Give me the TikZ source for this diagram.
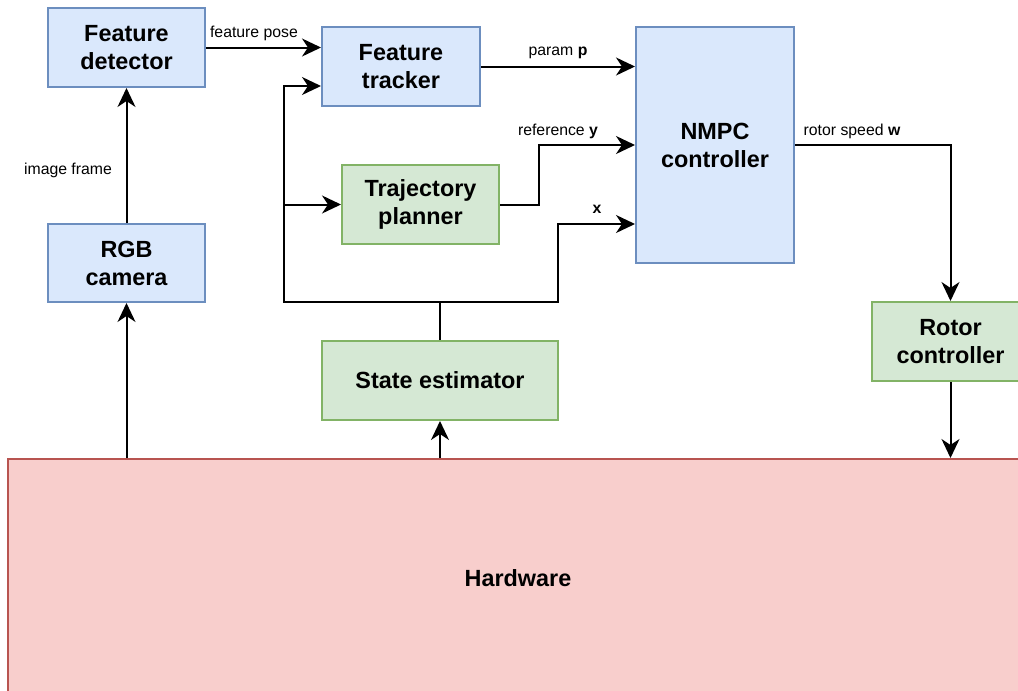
\documentclass[tikz,border=0pt]{standalone}
\usepackage{fontspec}
\setmainfont{Liberation Sans}
\usetikzlibrary{arrows.meta,calc}
\definecolor{bfill}{HTML}{DAE8FC}
\definecolor{bdraw}{HTML}{6C8EBF}
\definecolor{gfill}{HTML}{D5E8D4}
\definecolor{gdraw}{HTML}{82B366}
\definecolor{rfill}{HTML}{F8CECC}
\definecolor{rdraw}{HTML}{B85450}
\begin{document}
\begin{tikzpicture}[x=1pt,y=-1pt,
  box/.style={draw,line width=2pt,inner sep=0pt,align=center,
    font=\fontsize{23.4}{28}\selectfont\bfseries,text=black},
  bluebox/.style={box,fill=bfill,draw=bdraw},
  greenbox/.style={box,fill=gfill,draw=gdraw},
  redbox/.style={box,fill=rfill,draw=rdraw},
  lbl/.style={font=\fontsize{15.8}{19}\selectfont,inner sep=0pt,text=black},
  arr/.style={draw=black,line width=2pt,-{Stealth[length=19pt,width=18pt,inset=6pt]}},
  ln/.style={draw=black,line width=2pt}]
\useasboundingbox (0,0) rectangle (1018,691);
\clip (0,0) rectangle (1018,691);
\fill[white] (0,0) rectangle (1018,691);

\node[redbox,minimum width=1020pt,minimum height=238pt] (hw) at (518,578) {Hardware};
\node[bluebox,minimum width=157pt,minimum height=79pt] (fd) at (126.5,47.5) {Feature\\detector};
\node[bluebox,minimum width=158pt,minimum height=79pt] (ft) at (401,66.5) {Feature\\tracker};
\node[bluebox,minimum width=158pt,minimum height=236pt] (nmpc) at (715,145) {NMPC\\controller};
\node[greenbox,minimum width=157pt,minimum height=79pt] (tp) at (420.5,204.5) {Trajectory\\planner};
\node[bluebox,minimum width=157pt,minimum height=78pt] (cam) at (126.5,263) {RGB\\camera};
\node[greenbox,minimum width=157pt,minimum height=79pt] (rc) at (950.5,341.5) {Rotor\\controller};
\node[greenbox,minimum width=236pt,minimum height=79pt] (se) at (440,380.5) {State estimator};

\coordinate (j) at (440,302);
\coordinate (lb) at (283.5,86);
\coordinate (rb) at (538.5,145);
\coordinate (xk) at (558,224);

% feature pose
\draw[arr] (fd.east) -- (ft.west |- fd.east);
\node[lbl] (lfp) at (254,33) {feature pose};
% param p
\draw[arr] (ft.east) -- (nmpc.west |- ft.east);
\node[lbl] (lpp) at (558,52.5) {param \textbf{p}};
% reference y
\draw[arr] (tp.east) -| (rb) -- (nmpc.west);
\node[lbl] (lry) at (558,131.5) {reference \textbf{y}};
% state x
\draw[arr] (se.north) -- (j) -| (xk) -- (nmpc.west |- xk);
\node[lbl] (lx) at (597,209.5) {\textbf{x}};
% state to tracker / planner
\draw[arr] (j) -| (lb) -- (ft.west |- lb);
\draw[arr] (lb |- tp.west) -- (tp.west);
% rotor speed
\draw[arr] (nmpc.east) -| (rc.north);
\node[lbl] (lrw) at (852,131.5) {rotor speed \textbf{w}};
\draw[arr] (rc.south) -- (rc.south |- hw.north);
% camera
\draw[arr] (cam.north) -- (fd.south);
\node[lbl] (lif) at (68,170.5) {image frame};
\draw[arr] (cam.south |- hw.north) -- (cam.south);
\draw[arr] (se.south |- hw.north) -- (se.south);
\end{tikzpicture}
\end{document}
